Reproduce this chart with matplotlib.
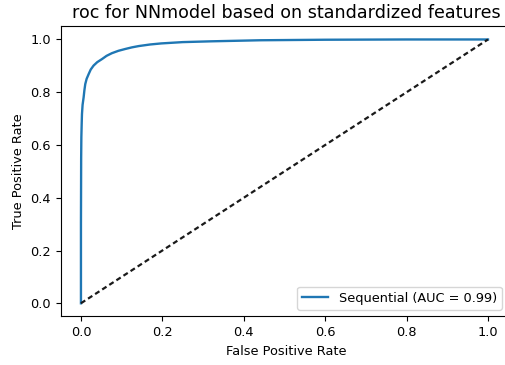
import matplotlib
matplotlib.use('Agg')
import matplotlib.pyplot as plt

plt.rcParams.update({'font.size': 9.3, 'axes.titlesize': 12.6})

# ROC points of the NN model (false/true positive rates)
fpr = [0.0, 0.0, 0.0005, 0.001, 0.0018, 0.0025, 0.004, 0.0066, 0.0085, 0.0106,
       0.014, 0.019, 0.024, 0.031, 0.04, 0.052, 0.063, 0.076, 0.092, 0.109,
       0.125, 0.142, 0.17, 0.197, 0.25, 0.32, 0.44, 0.6, 0.8, 1.0]
tpr = [0.0, 0.30, 0.55, 0.63, 0.68, 0.717, 0.752, 0.781, 0.808, 0.831,
       0.851, 0.869, 0.886, 0.901, 0.914, 0.926, 0.938, 0.948, 0.957, 0.964,
       0.970, 0.975, 0.981, 0.985, 0.990, 0.993, 0.997, 0.999, 1.0, 1.0]
auc_value = 0.99
model_name = 'Sequential'

# chance diagonal
chance_x = [0, 1]
chance_y = [0, 1]

fig = plt.figure(figsize=(5.05, 3.65), dpi=100)
ax = fig.add_axes([0.12, 0.133, 0.895, 0.795])

ax.plot(fpr, tpr, color='#1f77b4', lw=1.7, solid_joinstyle='round',
        label=f'{model_name} (AUC = {auc_value:.2f})')
ax.plot(chance_x, chance_y, color='#1a1a1a', lw=1.6, linestyle=(0, (2.3, 1.5)))

ax.set_xlim(-0.05, 1.0604)
ax.set_ylim(-0.05, 1.05)
ax.set_xlabel('False Positive Rate')
ax.set_ylabel('True Positive Rate')
ax.set_title('roc for NNmodel based on standardized features')
ax.legend(loc='lower right', bbox_to_anchor=(0.991, 0.0))

fig.savefig('out.png', dpi=100)
